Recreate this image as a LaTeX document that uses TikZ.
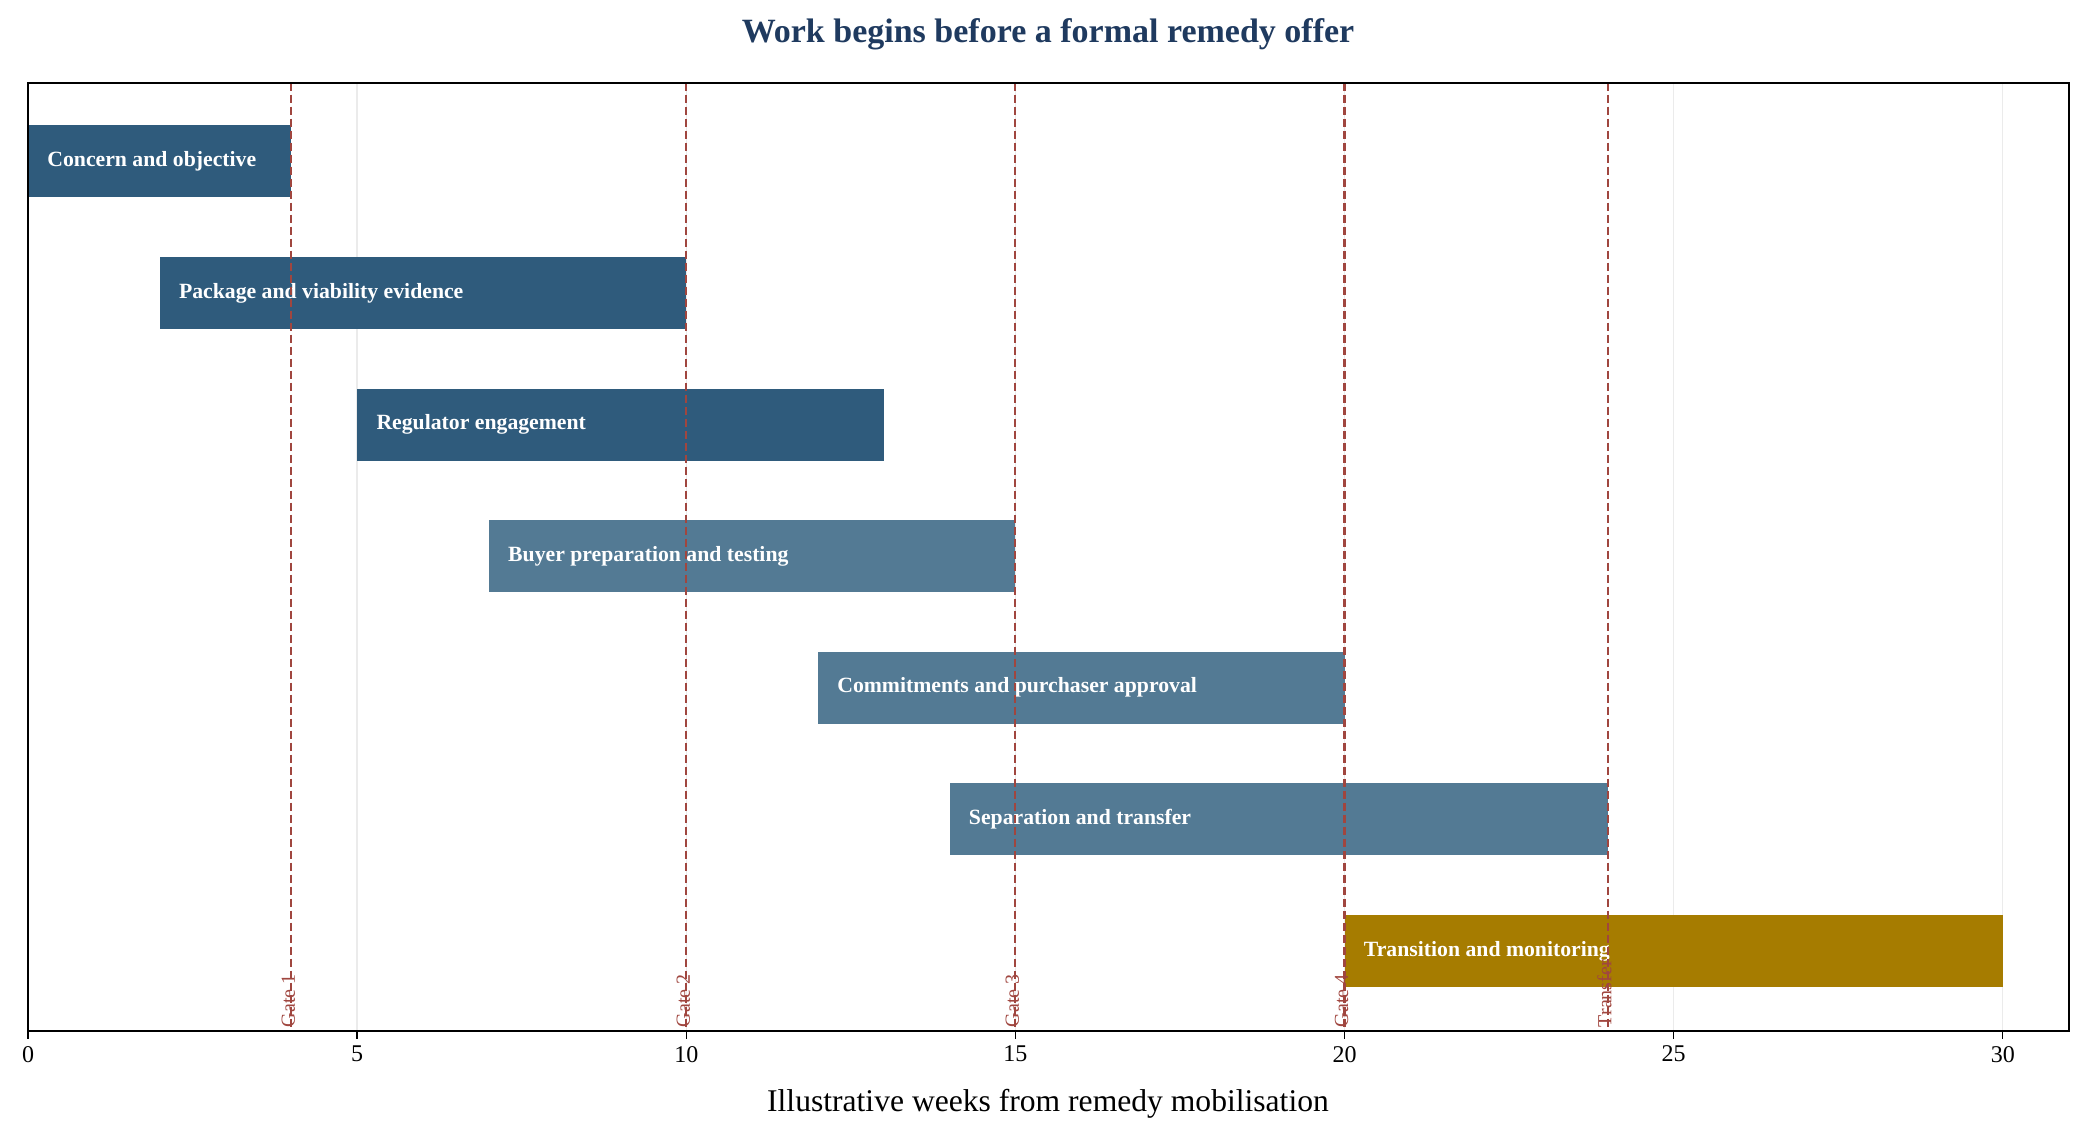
\documentclass[tikz,border=0pt]{standalone}
\usepackage{fontspec}
\setmainfont{Liberation Serif}
\definecolor{dblue}{HTML}{2F5B7C}
\definecolor{lblue}{HTML}{537A94}
\definecolor{gold}{HTML}{A67C00}
\definecolor{gred}{HTML}{A0463F}
\definecolor{ttl}{HTML}{1F3A5F}
\begin{document}
\begin{tikzpicture}[x=1pt,y=-1pt,
 blab/.style={anchor=west,text=white,font=\fontsize{16.3}{18}\selectfont\bfseries},
 gate/.style={draw=gred,line width=1.6pt,dash pattern=on 6pt off 3pt},
 glab/.style={rotate=90,anchor=south west,text=gred,font=\fontsize{15}{16}\selectfont,inner sep=0.5pt},
 tick/.style={font=\fontsize{18}{20}\selectfont,anchor=north}]
\useasboundingbox (0,0) rectangle (1560,851);
\def\X#1{21+49.37*#1}
% grid
\foreach \t in {5,10,...,30}{\draw[black!8,line width=1pt] ({\X{\t}},62) -- ({\X{\t}},773);}
% bars
\foreach \s/\e/\r/\c/\l [count=\i] in {0/4/0/dblue/Concern and objective,2/10/1/dblue/Package and viability evidence,5/13/2/dblue/Regulator engagement,7/15/3/lblue/Buyer preparation and testing,12/20/4/lblue/Commitments and purchaser approval,14/24/5/lblue/Separation and transfer,20/30/6/gold/Transition and monitoring}{
 \fill[\c] ({\X{\s}},{94+98.7*\r}) rectangle ({\X{\e}},{148+98.7*\r});
 \node[blab] (b\i) at ({\X{\s}+11},{121+98.7*\r}) {\l};}
% gates
\foreach \g/\l [count=\i] in {4/Gate 1,10/Gate 2,15/Gate 3,20/Gate 4,24/Transfer}{
 \draw[gate] ({\X{\g}},62) -- ({\X{\g}},773);
 \node[glab] (g\i) at ({\X{\g}+3.5},771) {\l};}
% frame
\draw[line width=1.4pt] (21,62) rectangle (1552,773);
\foreach \t in {0,5,...,30}{\draw[line width=1pt] ({\X{\t}},773) -- ({\X{\t}},779);
 \node[tick] (t\t) at ({\X{\t}},781) {\t};}
\node[font=\fontsize{23.7}{26}\selectfont] (xl) at (786,828) {Illustrative weeks from remedy mobilisation};
\node[font=\fontsize{25.5}{29}\selectfont\bfseries,text=ttl] (tt) at (786,26) {Work begins before a formal remedy offer};
\end{tikzpicture}
\end{document}
